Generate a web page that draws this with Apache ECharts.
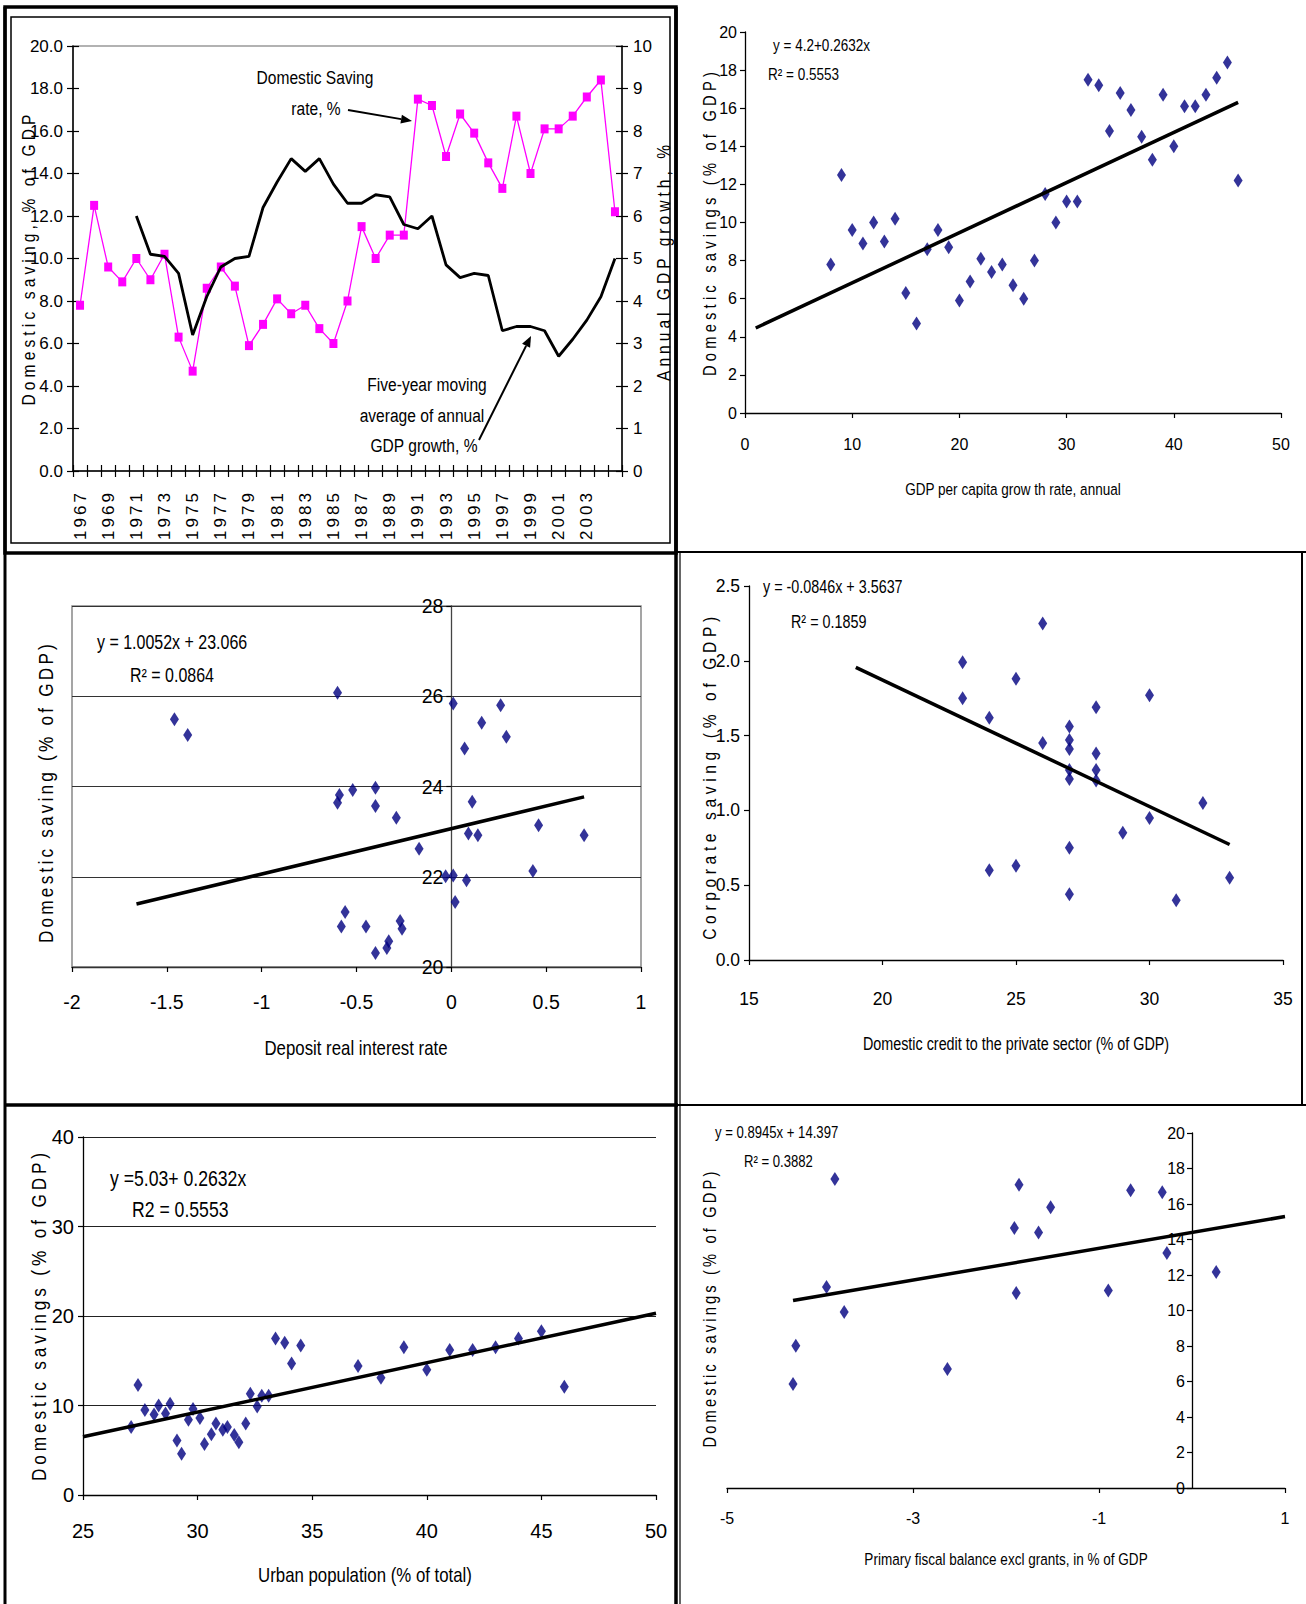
<!DOCTYPE html>
<html><head><meta charset="utf-8">
<script src="https://cdn.jsdelivr.net/npm/echarts@6/dist/echarts.min.js"></script>
<style>html,body{margin:0;padding:0;background:#fff}#chart{width:1306px;height:1604px}</style>
</head><body><div id="chart"></div>
<script>
// ---------------- DATA ----------------
const years = ['1967','1968','1969','1970','1971','1972','1973','1974','1975','1976','1977','1978','1979','1980','1981','1982','1983','1984','1985','1986','1987','1988','1989','1990','1991','1992','1993','1994','1995','1996','1997','1998','1999','2000','2001','2002','2003','2004','2005'];
const savingsRate = [7.8,12.5,9.6,8.9,10.0,9.0,10.2,6.3,4.7,8.6, 9.6,8.7,5.9,6.9,8.1,7.4,7.8,6.7,6.0,8.0, 11.5,10.0,11.1,11.1,17.5,17.2,14.8,16.8,15.9,14.5, 13.3,16.7,14.0,16.1,16.1,16.7,17.6,18.4,12.2];
const growthMovingAvg = [null,null,null,null, 6.0,5.1,5.05,4.65,3.2,4.1,4.8,5.0,5.05,6.2, 6.8,7.35,7.05,7.35,6.75,6.3,6.3,6.5,6.45,5.8, 5.7,6.0,4.85,4.55,4.65,4.6,3.3,3.4,3.4,3.3, 2.7,3.1,3.55,4.1,5.0];

const gdpPerCapitaGrowth = [8,9,10,11,12,13,14,15,16,17,18,19,20,21,22,23,24,25,26,27,28,29,30,31,32,33,34,35,36,37,38,39,40,41,42,43,44,45,46];

const depositRate   = [-1.46,-1.39,-0.60,-0.59,-0.60,-0.52,-0.40,-0.40,-0.29,-0.17,-0.03,0.01,0.01,0.07,0.11,0.09,0.14,0.08,0.02,0.16,0.26,0.29,0.46,0.43,0.70,-0.56,-0.58,-0.45,-0.40,-0.34,-0.33,-0.27,-0.26];
const depositSaving = [25.49,25.14,26.08,23.81,23.64,23.92,23.97,23.57,23.31,22.62,22.01,22.03,25.84,24.84,23.66,22.96,22.92,21.92,21.44,25.41,25.80,25.10,23.14,22.13,22.92,21.22,20.90,20.90,20.31,20.42,20.57,21.02,20.85];

const privateCredit   = [23,23,24,24,25,25,26,26,27,27,27,27,27,27,27,28,28,28,28,29,30,30,31,32,33];
const corporateSaving = [1.99,1.75,1.62,0.60,1.88,0.63,2.25,1.45,1.56,1.47,1.41,1.27,1.21,0.75,0.44,1.69,1.38,1.27,1.20,0.85,1.77,0.95,0.40,1.05,0.55];

const urbanPopulation = [27.1,27.4,27.7,28.1,28.3,28.6,28.8,29.1,29.3,29.6,29.8,30.1,30.3,30.6,30.8,31.1,31.3,31.6,31.8,32.1,32.3,32.6,32.8,33.1,33.4,33.8,34.1,34.5,37.0,38.0,39.0,40.0,41.0,42.0,43.0,44.0,45.0,46.0];
const urbanSaving     = [7.6,12.3,9.5,9.0,10.0,9.1,10.2,6.1,4.6,8.4,9.6,8.6,5.7,6.8,8.0,7.3,7.6,6.7,5.9,8.0,11.3,9.9,11.1,11.1,17.5,17.0,14.7,16.7,14.4,13.1,16.5,14.0,16.2,16.2,16.5,17.5,18.3,12.1];

const fiscalBalance = [-4.29,-4.26,-3.93,-3.84,-3.74,-2.63,-1.91,-1.89,-1.86,-1.65,-1.52,-0.90,-0.66,-0.32,-0.27,0.26];
const fiscalSaving  = [5.86,8.02,11.32,17.41,9.92,6.70,14.65,10.99,17.09,14.40,15.81,11.12,16.77,16.66,13.24,12.17];

// trend lines: [intercept, slope, xFrom, xTo]
const trendGdp     = [4.2, 0.2632, 1, 46];
const trendDeposit = [23.066, 1.0052, -1.66, 0.70];
const trendCredit  = [3.5637, -0.0846, 19, 33];
const trendUrban   = [-7.3, 0.552, 25, 50];
const trendFiscal  = [14.397, 0.8945, -4.29, 1];

// ---------------- FONTS ----------------
function fontAvailable(name){
  const c=document.createElement('canvas').getContext('2d');
  const s='mmmmmmmmmmlli1WWW0123';
  c.font='40px monospace'; const a=c.measureText(s).width;
  c.font='40px "'+name+'", monospace'; const b=c.measureText(s).width;
  return a!==b;
}
const hasNarrow = fontAvailable('Liberation Sans Narrow') || fontAvailable('Arial Narrow');
const SX = hasNarrow ? 1 : 0.82;          // horizontal condensing for free texts
const KA = hasNarrow ? 1.1 : 1;           // axis label size factor
const FAM = '"Liberation Sans Narrow", "Arial Narrow", "Liberation Sans", Arial, sans-serif';

// ---------------- HELPERS ----------------
const zip = (a,b) => a.map((v,i)=>[v,b[i]]);
const trendData = t => [[t[2], t[0]+t[1]*t[2]], [t[3], t[0]+t[1]*t[3]]];
const BLACK = '#000';
function lbl(size, margin, extra){ return Object.assign({color:BLACK, fontFamily:FAM, fontSize:Math.round(size*KA*10)/10, margin:margin}, extra||{}); }
function line(w, color){ return {show:true, onZero:false, lineStyle:{color:color||BLACK, width:w||1.3}}; }
function tick(len, inside){ return {show:true, length:len, inside:!!inside, lineStyle:{color:BLACK, width:1.2}}; }

function txt(x,y,text,size,align){
  return {type:'text', x:x, y:y, scaleX:SX, z:60, style:{text:text, fill:BLACK, fontFamily:FAM, fontSize:size, align:align||'left', verticalAlign:'middle'}};
}
function vtxt(x,y,text,size){
  return {type:'text', x:x, y:y, rotation:Math.PI/2, scaleX:SX, z:60, style:{text:text, fill:BLACK, fontFamily:FAM, fontSize:size, align:'center', verticalAlign:'middle'}};
}
function seg(x1,y1,x2,y2,w){ return {type:'line', z:70, shape:{x1,y1,x2,y2}, style:{stroke:BLACK, lineWidth:w}}; }
function arrow(x1,y1,x2,y2){
  const a=Math.atan2(y2-y1,x2-x1), L=11, W=4.5;
  const bx=x2-L*Math.cos(a), by=y2-L*Math.sin(a);
  return [
    {type:'line', z:60, shape:{x1,y1,x2:bx,y2:by}, style:{stroke:BLACK, lineWidth:2}},
    {type:'polygon', z:60, shape:{points:[[x2,y2],[bx+W*Math.sin(a), by-W*Math.cos(a)],[bx-W*Math.sin(a), by+W*Math.cos(a)]]}, style:{fill:BLACK}}
  ];
}

// grids (px)
const grids = [
  {left:73, top:46, width:549, height:425},
  {left:745, top:32, width:536, height:381},
  {left:72, top:606, width:569, height:361},
  {left:749, top:586, width:534, height:374},
  {left:83, top:1137, width:573, height:358},
  {left:727, top:1133, width:558, height:355}
];
// a y axis that crosses the x axis at x = 0
const zeroOffset = (g, min, max) => -(0 - min) / (max - min) * g.width;

// letter-spaced rotated axis titles: text, x, y, font size, target length
const spacedTitles = [
  ['Domestic saving, % of GDP', 28, 258, 19, 291],
  ['Annual GDP growth, %', 663, 261, 19, 236],
  ['Domestic savings (% of GDP)', 709, 222, 18, 304],
  ['Domestic saving (% of GDP)', 46, 792, 21, 299],
  ['Corporate saving (% of GDP)', 709, 776, 19, 323],
  ['Domestic savings (% of GDP)', 39, 1315, 21, 328],
  ['Domestic savings (% of GDP)', 709, 1308, 18, 276]
];

const graphics = [
  // table frame
  {type:'rect', z:70, shape:{x:5, y:7, width:671, height:546}, style:{fill:'none', stroke:BLACK, lineWidth:3.5}},
  {type:'rect', z:70, shape:{x:11, y:17, width:659, height:526}, style:{fill:'none', stroke:BLACK, lineWidth:1.5}},
  seg(676, 7, 676, 1604, 3.5),
  seg(680, 553, 680, 1604, 1.2),
  seg(5, 7, 5, 1604, 3),
  seg(676, 552, 1306, 552, 2.2),
  seg(5, 1105, 678, 1105, 3.5),
  seg(676, 1105, 1306, 1105, 2.2),
  seg(1302, 552, 1302, 1105, 2),
  // panel 1 annotations
  txt(315, 77, 'Domestic Saving', 19, 'center'),
  txt(316, 108, 'rate, %', 19, 'center'),
  ...arrow(348, 110, 412, 121),
  txt(427, 384, 'Five-year moving', 19, 'center'),
  txt(422, 415, 'average of annual', 19, 'center'),
  txt(424, 445, 'GDP growth, %', 19, 'center'),
  ...arrow(479, 440, 531, 336),
  // equations
  txt(773, 45, 'y = 4.2+0.2632x', 16.5),
  txt(768, 74, 'R\u00b2 = 0.5553', 16.5),
  txt(97, 642, 'y = 1.0052x + 23.066', 19.5),
  txt(130, 675, 'R\u00b2 = 0.0864', 19.5),
  txt(763, 587, 'y = -0.0846x + 3.5637', 17.5),
  txt(791, 622, 'R\u00b2 = 0.1859', 17.5),
  txt(110, 1178, 'y =5.03+ 0.2632x', 21.5),
  txt(132, 1209, 'R2 = 0.5553', 21.5),
  txt(715, 1133, 'y = 0.8945x + 14.397', 16),
  txt(744, 1162, 'R\u00b2 = 0.3882', 16),
  // x axis titles
  txt(1013, 489, 'GDP per capita grow th rate, annual', 16.5, 'center'),
  txt(356, 1048, 'Deposit real interest rate', 20.5, 'center'),
  txt(1016, 1044, 'Domestic credit to the private sector (% of GDP)', 17.5, 'center'),
  txt(365, 1575, 'Urban population (% of total)', 20.5, 'center'),
  txt(1006, 1559, 'Primary fiscal balance excl grants, in % of GDP', 16.5, 'center'),
  // y axis titles
  ...spacedTitles.map(t => vtxt(t[1], t[2], t[0], t[3]))
];

const diamond = {symbol:'diamond', symbolSize:[9,14], itemStyle:{color:'#000080'}};
const trendStyle = {type:'line', symbol:'none', lineStyle:{color:BLACK, width:3.5}, z:5, silent:true};
const gridOpt = (g, extra) => Object.assign({left:g.left, top:g.top, width:g.width, height:g.height, outerBoundsMode:'none', containLabel:false}, extra||{});

const option = {
  animation:false,
  backgroundColor:'#fff',
  textStyle:{fontFamily:FAM},
  grid:[
    gridOpt(grids[0], {show:true, borderColor:'#999', borderWidth:1.5, backgroundColor:'transparent'}),
    gridOpt(grids[1]),
    gridOpt(grids[2], {show:true, borderColor:'#888', borderWidth:1.5, backgroundColor:'transparent'}),
    gridOpt(grids[3]),
    gridOpt(grids[4]),
    gridOpt(grids[5])
  ],
  xAxis:[
    {type:'category', gridIndex:0, position:'bottom', data:years, boundaryGap:true, axisLine:line(1.5),
      axisTick:Object.assign(tick(6), {interval:0}),
      axisLabel:lbl(17, 19, {interval:1, rotate:90, formatter:v => v==='2005' ? '' : v}), splitLine:{show:false}},
    {type:'category', gridIndex:0, position:'bottom', data:years, boundaryGap:true, axisLine:{show:false},
      axisTick:Object.assign(tick(6, true), {interval:0}), axisLabel:{show:false}, splitLine:{show:false}},
    {type:'value', gridIndex:1, position:'bottom', min:0, max:50, interval:10, axisLine:line(1.3), axisTick:tick(5), axisLabel:lbl(16, 23), splitLine:{show:false}},
    {type:'value', gridIndex:2, position:'bottom', min:-2, max:1, interval:0.5, axisLine:line(1.3, '#333'), axisTick:tick(5), axisLabel:lbl(19.5, 25), splitLine:{show:false}},
    {type:'value', gridIndex:3, position:'bottom', min:15, max:35, interval:5, axisLine:line(1.3), axisTick:tick(5), axisLabel:lbl(17.5, 30), splitLine:{show:false}},
    {type:'value', gridIndex:4, position:'bottom', min:25, max:50, interval:5, axisLine:line(1.3), axisTick:tick(5), axisLabel:lbl(20, 26), splitLine:{show:false}},
    {type:'value', gridIndex:5, position:'bottom', min:-5, max:1, interval:2, axisLine:line(1.3), axisTick:tick(5), axisLabel:lbl(16, 22), splitLine:{show:false}}
  ],
  yAxis:[
    {type:'value', gridIndex:0, position:'left', min:0, max:20, interval:2, axisLine:line(1.5), axisTick:tick(6), axisLabel:lbl(17, 10, {formatter:v => v.toFixed(1)}), splitLine:{show:false}},
    {type:'value', gridIndex:0, position:'left', min:0, max:20, interval:2, axisLine:{show:false}, axisTick:tick(6, true), axisLabel:{show:false}, splitLine:{show:false}},
    {type:'value', gridIndex:0, position:'right', min:0, max:10, interval:1, axisLine:line(1.5), axisTick:tick(6), axisLabel:lbl(17, 11), splitLine:{show:false}},
    {type:'value', gridIndex:0, position:'right', min:0, max:10, interval:1, axisLine:{show:false}, axisTick:tick(6, true), axisLabel:{show:false}, splitLine:{show:false}},
    {type:'value', gridIndex:1, position:'left', min:0, max:20, interval:2, axisLine:line(1.3), axisTick:tick(5), axisLabel:lbl(16, 8), splitLine:{show:false}},
    {type:'value', gridIndex:2, position:'left', offset:zeroOffset(grids[2], -2, 1), min:20, max:28, interval:2, axisLine:line(1.3, '#444'), axisTick:tick(5), axisLabel:lbl(19.5, 8), splitLine:{show:false}},
    {type:'value', gridIndex:3, position:'left', min:0, max:2.5, interval:0.5, axisLine:line(1.3), axisTick:tick(5), axisLabel:lbl(17.5, 9, {formatter:v => v.toFixed(1)}), splitLine:{show:false}},
    {type:'value', gridIndex:4, position:'left', min:0, max:40, interval:10, axisLine:line(1.3), axisTick:tick(5), axisLabel:lbl(20, 9), splitLine:{show:true, lineStyle:{color:'#222', width:1}}},
    {type:'value', gridIndex:5, position:'left', offset:zeroOffset(grids[5], -5, 1), min:0, max:20, interval:2, axisLine:line(1.3), axisTick:tick(5), axisLabel:lbl(16, 7), splitLine:{show:false}},
    // gridlines of panel 3 (span the whole plot)
    {type:'value', gridIndex:2, position:'left', min:20, max:28, interval:2, axisLine:{show:false}, axisTick:{show:false}, axisLabel:{show:false}, splitLine:{show:true, lineStyle:{color:'#333', width:1}}}
  ],
  series:[
    {type:'line', xAxisIndex:0, yAxisIndex:0, data:savingsRate, symbol:'rect', symbolSize:[8,9], itemStyle:{color:'#ff00ff'}, lineStyle:{color:'#ff00ff', width:1.3}, z:3},
    {type:'line', xAxisIndex:0, yAxisIndex:2, data:growthMovingAvg, symbol:'none', connectNulls:false, lineStyle:{color:BLACK, width:2.8}, z:4},
    Object.assign({type:'scatter', xAxisIndex:2, yAxisIndex:4, data:zip(gdpPerCapitaGrowth, savingsRate)}, diamond),
    Object.assign({xAxisIndex:2, yAxisIndex:4, data:trendData(trendGdp)}, trendStyle),
    Object.assign({type:'scatter', xAxisIndex:3, yAxisIndex:5, data:zip(depositRate, depositSaving)}, diamond),
    Object.assign({xAxisIndex:3, yAxisIndex:5, data:trendData(trendDeposit)}, trendStyle),
    Object.assign({type:'scatter', xAxisIndex:4, yAxisIndex:6, data:zip(privateCredit, corporateSaving)}, diamond),
    Object.assign({xAxisIndex:4, yAxisIndex:6, data:trendData(trendCredit)}, trendStyle),
    Object.assign({type:'scatter', xAxisIndex:5, yAxisIndex:7, data:zip(urbanPopulation, urbanSaving)}, diamond),
    Object.assign({xAxisIndex:5, yAxisIndex:7, data:trendData(trendUrban)}, trendStyle),
    Object.assign({type:'scatter', xAxisIndex:6, yAxisIndex:8, data:zip(fiscalBalance, fiscalSaving)}, diamond),
    Object.assign({xAxisIndex:6, yAxisIndex:8, data:trendData(trendFiscal)}, trendStyle)
  ],
  graphic:{elements:graphics}
};

const dom = document.getElementById('chart');
const chart = echarts.init(dom, null, {renderer:'svg', width:1306, height:1604});

function applySpacing(){
  const texts = dom.querySelectorAll('text');
  const host = dom.getBoundingClientRect();
  texts.forEach(t => {
    if (t.getAttribute('data-sp')) return;
    const s = (t.textContent || '').trim();
    let target = null, scale = 1;
    if (/^(19|20)\d\d$/.test(s)) target = 47;
    else {
      const r = t.getBoundingClientRect();
      const cx = r.left - host.left + r.width/2, cy = r.top - host.top + r.height/2;
      let best = null, bd = 1e9;
      spacedTitles.forEach(e => { if (e[0] === s) { const d = Math.hypot(e[1]-cx, e[2]-cy); if (d < bd) { bd = d; best = e; } } });
      if (best) { target = best[4]; scale = SX; }
    }
    if (target) {
      const nat = t.getComputedTextLength();
      const sp = (target / scale - nat) / Math.max(1, s.length - 1);
      if (sp > 0) t.style.letterSpacing = sp.toFixed(2) + 'px';
      t.setAttribute('data-sp', '1');
    }
  });
}
chart.on('finished', applySpacing);
chart.setOption(option);
setTimeout(applySpacing, 50);
setTimeout(applySpacing, 400);
</script></body></html>
